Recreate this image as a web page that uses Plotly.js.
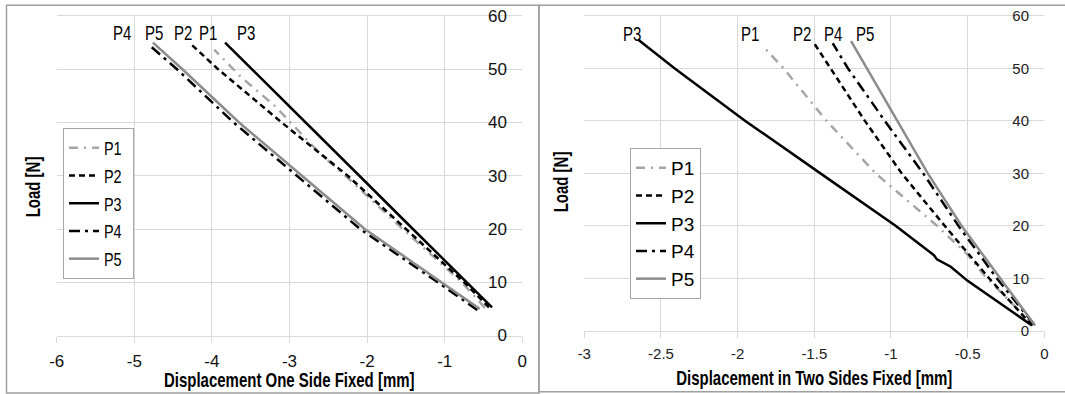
<!DOCTYPE html>
<html><head><meta charset="utf-8">
<script src="https://cdn.plot.ly/plotly-3.0.1.min.js"></script>
<style>
html,body{margin:0;padding:0;background:#fff}
#chart{width:1065px;height:394px}
/* condensed look for titles, data labels and legend text */
#chart .annotation-text{transform-box:fill-box;transform-origin:50% 50%;transform:scaleX(0.75)}
#chart .legendtext{transform-box:fill-box;transform-origin:0% 50%;transform:scaleX(0.76)}
</style>
</head><body><div id="chart"></div>
<script>
// ---- data ----
const seriesNames = ['P1', 'P2', 'P3', 'P4', 'P5'];

// Displacement One Side Fixed [mm] vs Load [N]
const oneP1x = [-0.48, -0.78, -1.54, -2.28, -2.61, -3.18, -3.63, -3.97];
const oneP1y = [5.2, 10, 20, 30, 34.2, 43, 48.6, 53.7];
const oneP2x = [-0.43, -0.75, -1.50, -2.25, -3.10, -3.92, -4.29];
const oneP2y = [5.3, 10, 20, 30, 40, 50, 55];
const oneP3x = [-0.39, -0.72, -1.41, -2.10, -2.79, -3.48, -3.83];
const oneP3y = [5.3, 10, 20, 30, 40, 50, 55];
const oneP4x = [-0.58, -1.09, -2.09, -2.90, -3.72, -4.45, -4.78];
const oneP4y = [4.8, 10, 20, 30, 40, 50, 54.2];
const oneP5x = [-0.55, -1.04, -2.03, -2.84, -3.65, -4.38, -4.76];
const oneP5y = [5.0, 10, 20, 30, 40, 50, 55];

// Displacement in Two Sides Fixed [mm] vs Load [N]
const twoP1x = [-0.07, -0.39, -0.50, -0.70, -1.10, -1.42, -1.70, -1.83];
const twoP1y = [1.0, 10.5, 14.5, 20, 30, 40, 50, 54.1];
const twoP2x = [-0.08, -0.36, -0.65, -0.93, -1.17, -1.39, -1.51];
const twoP2y = [1.0, 10, 20, 30, 40, 50, 55.2];
const twoP3x = [-0.08, -0.28, -0.50, -0.61, -0.70, -0.72, -0.97, -1.46, -1.95, -2.41, -2.65];
const twoP3y = [1.0, 5.0, 9.5, 12.2, 13.6, 14.4, 20, 30, 40, 50, 55.5];
const twoP4x = [-0.07, -0.31, -0.56, -0.79, -1.04, -1.28, -1.38];
const twoP4y = [1.3, 10, 20, 30, 40, 50, 54.8];
const twoP5x = [-0.06, -0.29, -0.54, -0.76, -0.96, -1.16, -1.26];
const twoP5y = [1.0, 10, 20, 30, 40, 50, 55.2];

// data-label positions (series name text above the line ends)
const oneLabelX = [-4.05, -4.37, -3.56, -5.16, -4.75];
const oneLabelY = [56.75, 56.75, 56.75, 56.75, 56.75];
const twoLabelX = [-1.92, -1.58, -2.69, -1.38, -1.17];
const twoLabelY = [56.5, 56.5, 56.5, 56.5, 56.5];

// tick labels
const oneXTickVals = [-6, -5, -4, -3, -2, -1, 0];
const oneXTickText = ['-6', '-5', '-4', '-3', '-2', '-1', '0'];
const twoXTickVals = [-3, -2.5, -2, -1.5, -1, -0.5, 0];
const twoXTickText = ['-3', '-2.5', '-2', '-1.5', '-1', '-0.5', '0'];
const yTickVals = [0, 10, 20, 30, 40, 50, 60];
const yTickText = ['0', '10', '20', '30', '40', '50', '60'];

const oneXTitle = 'Displacement One Side Fixed [mm]';
const twoXTitle = 'Displacement in Two Sides Fixed [mm]';
const yTitle = 'Load [N]';

// ---- styles ----
const lineStyles = [
  {color: '#a6a6a6', dash: '9px,6px,2px,6px', width: 2.5},
  {color: '#000000', dash: '6px,4px', width: 2.5},
  {color: '#000000', dash: 'solid', width: 2.5},
  {color: '#000000', dash: '11px,5px,3px,5px', width: 2.5},
  {color: '#8c8c8c', dash: 'solid', width: 2.5}
];
const sansFont = 'Liberation Sans, Arial, sans-serif';
const gridColor = '#d9d9d9';

const oneXs = [oneP1x, oneP2x, oneP3x, oneP4x, oneP5x];
const oneYs = [oneP1y, oneP2y, oneP3y, oneP4y, oneP5y];
const twoXs = [twoP1x, twoP2x, twoP3x, twoP4x, twoP5x];
const twoYs = [twoP1y, twoP2y, twoP3y, twoP4y, twoP5y];

const traces = [];
seriesNames.forEach((n, i) => {
  traces.push({x: oneXs[i], y: oneYs[i], name: n, type: 'scatter', mode: 'lines',
    xaxis: 'x', yaxis: 'y', legend: 'legend', line: lineStyles[i], hoverinfo: 'x+y'});
});
seriesNames.forEach((n, i) => {
  traces.push({x: twoXs[i], y: twoYs[i], name: n, type: 'scatter', mode: 'lines',
    xaxis: 'x2', yaxis: 'y2', legend: 'legend2', line: lineStyles[i], hoverinfo: 'x+y'});
});

const W = 1065, H = 394;
const px = v => v / W, py = v => 1 - v / H;

const labelFont = {family: sansFont, size: 20, color: '#000'};
const annotations = [];
seriesNames.forEach((n, i) => {
  annotations.push({x: oneLabelX[i], y: oneLabelY[i], xref: 'x', yref: 'y', text: n, showarrow: false, font: labelFont});
  annotations.push({x: twoLabelX[i], y: twoLabelY[i], xref: 'x2', yref: 'y2', text: n, showarrow: false, font: labelFont});
});
const titleFont = {family: sansFont, size: 20, color: '#000'};
annotations.push({x: px(289.5), y: py(380), xref: 'paper', yref: 'paper', text: '<b>' + oneXTitle + '</b>',
  showarrow: false, font: titleFont, xanchor: 'center', yanchor: 'middle'});
annotations.push({x: px(814), y: py(378), xref: 'paper', yref: 'paper', text: '<b>' + twoXTitle + '</b>',
  showarrow: false, font: titleFont, xanchor: 'center', yanchor: 'middle'});
annotations.push({x: px(33.5), y: py(187), xref: 'paper', yref: 'paper', text: '<b>' + yTitle + '</b>',
  showarrow: false, font: titleFont, textangle: -90, xanchor: 'center', yanchor: 'middle'});
annotations.push({x: px(561.5), y: py(182), xref: 'paper', yref: 'paper', text: '<b>' + yTitle + '</b>',
  showarrow: false, font: titleFont, textangle: -90, xanchor: 'center', yanchor: 'middle'});

const xCommon = {showgrid: true, gridcolor: gridColor, gridwidth: 1, zeroline: false,
  showline: true, mirror: true, linecolor: gridColor, linewidth: 1,
  ticks: 'outside', ticklen: 6, tickcolor: gridColor, tickmode: 'array', fixedrange: true};
const yCommon = {showgrid: true, gridcolor: gridColor, gridwidth: 1, zeroline: false,
  showline: false, ticks: '', tickmode: 'array', range: [0, 60], anchor: 'free', side: 'left',
  tickvals: yTickVals, ticktext: yTickText, fixedrange: true};

const leftTickFont = {family: sansFont, size: 17, color: '#111'};
const rightTickFont = {family: sansFont, size: 15, color: '#222'};
const legendFont = {family: sansFont, size: 19, color: '#000'};

const layout = {
  width: W, height: H,
  margin: {l: 0, r: 0, t: 0, b: 0},
  paper_bgcolor: '#fff', plot_bgcolor: '#fff',
  showlegend: true,
  xaxis: Object.assign({}, xCommon, {domain: [px(56.7), px(522.3)], range: [-6, 0], anchor: 'y',
    tickvals: oneXTickVals, ticktext: oneXTickText, tickfont: leftTickFont, ticklabelstandoff: 4}),
  yaxis: Object.assign({}, yCommon, {domain: [py(335.5), py(16)], position: px(507), tickfont: leftTickFont}),
  xaxis2: Object.assign({}, xCommon, {domain: [px(584.3), px(1044.3)], range: [-3, 0], anchor: 'y2',
    tickvals: twoXTickVals, ticktext: twoXTickText, tickfont: rightTickFont, ticklabelstandoff: 3}),
  yaxis2: Object.assign({}, yCommon, {domain: [py(330.7), py(16)], position: px(1029), tickfont: rightTickFont}),
  legend: {x: px(63), y: py(128), xanchor: 'left', yanchor: 'top', bgcolor: '#fff',
    bordercolor: '#a6a6a6', borderwidth: 1, font: legendFont, itemwidth: 30, tracegroupgap: 0},
  legend2: {x: px(630), y: py(148), xanchor: 'left', yanchor: 'top', bgcolor: '#fff',
    bordercolor: '#a6a6a6', borderwidth: 1, font: legendFont, itemwidth: 30, tracegroupgap: 0},
  annotations: annotations,
  shapes: [
    {type: 'rect', xref: 'paper', yref: 'paper', x0: px(6.5), x1: px(539), y0: py(393), y1: py(5.3),
      line: {color: '#a0a0a0', width: 1.5}, layer: 'below'},
    {type: 'rect', xref: 'paper', yref: 'paper', x0: px(539), x1: px(1075), y0: py(391.7), y1: py(5.3),
      line: {color: '#a0a0a0', width: 1.5}, layer: 'below'}
  ]
};

Plotly.newPlot('chart', traces, layout, {displayModeBar: false, staticPlot: true});
</script>
</body></html>
